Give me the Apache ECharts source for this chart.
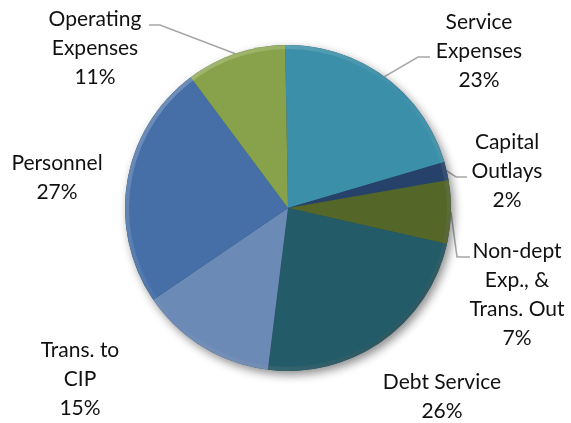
<!DOCTYPE html>
<html>
<head>
<meta charset="utf-8">
<script src="https://cdn.jsdelivr.net/npm/echarts@6/dist/echarts.min.js"></script>
<style>
  html, body { margin: 0; padding: 0; background: #ffffff; }
  #chart { width: 571px; height: 423px; }
</style>
</head>
<body>
<div id="chart"></div>
<script>
// Budget categories, clockwise from 12 o'clock
const categories = [
  'Service\nExpenses',
  'Capital\nOutlays',
  'Non-dept\nExp., &\nTrans. Out',
  'Debt Service',
  'Trans. to\nCIP',
  'Personnel',
  'Operating\nExpenses'
];
// Percentage share of each category
const shares = [23, 2, 7, 26, 15, 27, 11];

// Slice fill colours
const sliceColors = ['#3c8fa8', '#26426b', '#546628', '#235c68', '#6c8ab6', '#466fa8', '#87a24a'];
// Whether a category label has a leader line
const hasLeader = [true, true, true, false, false, false, true];

// Label block centres (px) and leader-line bend/end points
const labelAnchors = [[479, 51], [507, 171], [517, 295], [442, 397], [80, 379], [57, 178], [95, 48]];
const leaderBends = [
  [[418, 57], [430, 57]],
  [[456, 177], [467, 177]],
  [[457, 257], [470, 257]],
  null, null, null,
  [[160, 25], [149, 25]]
];

const center = [288, 208];
const radius = 163;

const chart = echarts.init(document.getElementById('chart'), null, { renderer: 'canvas' });

const pieData = categories.map((name, i) => ({
  name: name,
  value: shares[i],
  itemStyle: { color: sliceColors[i] },
  labelLine: { show: hasLeader[i] }
}));

chart.setOption({
  backgroundColor: '#ffffff',
  animation: false,
  series: [
    {
      // drop shadow under the disc
      type: 'pie',
      silent: true,
      center: center,
      radius: radius,
      label: { show: false },
      labelLine: { show: false },
      itemStyle: {
        color: '#2a4a5a',
        shadowBlur: 10,
        shadowColor: 'rgba(0,0,0,0.45)',
        shadowOffsetX: 3,
        shadowOffsetY: 4
      },
      data: [{ value: 1, name: '' }]
    },
    {
      type: 'pie',
      center: center,
      radius: radius,
      startAngle: 91,
      clockwise: true,
      avoidLabelOverlap: false,
      itemStyle: { borderWidth: 0 },
      label: {
        show: true,
        position: 'outside',
        formatter: '{b}\n{c}%',
        fontFamily: 'Lato',
        fontSize: 21,
        lineHeight: 29,
        color: '#111111',
        align: 'center'
      },
      labelLine: {
        show: true,
        lineStyle: { color: '#a6a6a6', width: 1.5 }
      },
      labelLayout: function (p) {
        const i = p.dataIndex;
        const a = labelAnchors[i];
        const out = { x: a[0], y: a[1], align: 'center', verticalAlign: 'middle' };
        if (leaderBends[i] && p.labelLinePoints) {
          out.labelLinePoints = [p.labelLinePoints[0], leaderBends[i][0], leaderBends[i][1]];
        }
        return out;
      },
      emphasis: { disabled: true },
      data: pieData
    },
    {
      // bevel rim: light on the upper left, dark on the lower right
      type: 'pie',
      silent: true,
      center: center,
      radius: [radius - 4, radius],
      label: { show: false },
      labelLine: { show: false },
      itemStyle: {
        color: {
          type: 'linear', x: 0, y: 0, x2: 1, y2: 1,
          colorStops: [
            { offset: 0, color: 'rgba(255,255,255,0.3)' },
            { offset: 0.5, color: 'rgba(255,255,255,0)' },
            { offset: 1, color: 'rgba(0,0,0,0.35)' }
          ]
        }
      },
      data: [{ value: 1, name: '' }]
    }
  ]
});
</script>
</body>
</html>
